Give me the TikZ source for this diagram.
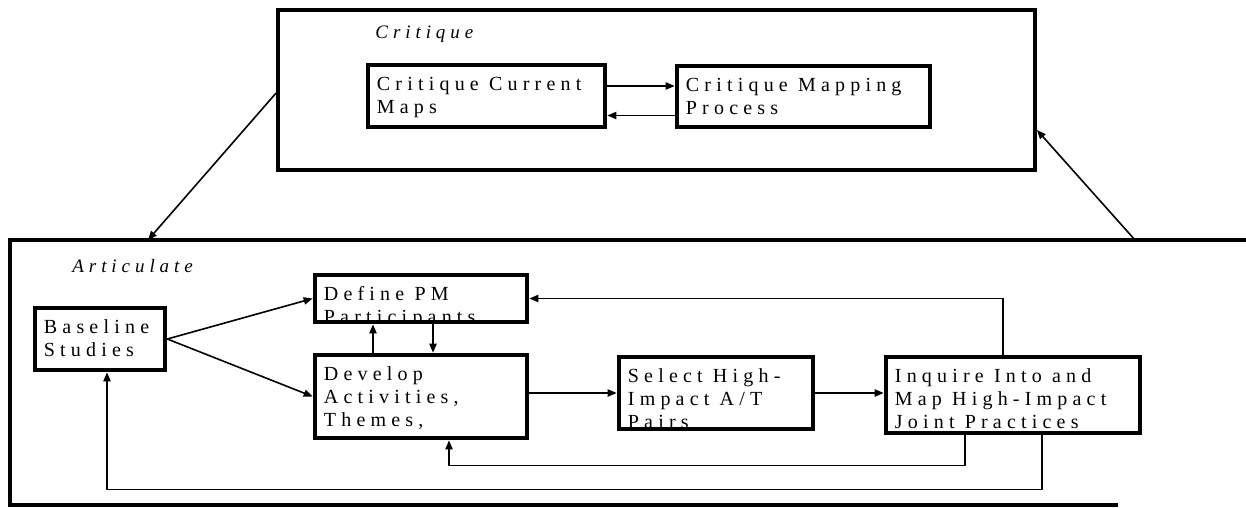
\documentclass[tikz,border=0pt]{standalone}
\usepackage{fontspec}
\setmainfont{Liberation Serif}
\newfontfamily\spacedfont[LetterSpace=26]{Liberation Serif}
\usetikzlibrary{arrows.meta}
\newcommand{\boxtext}[1]{%
  \node[draw=none, anchor=north west, align=left, inner sep=0pt,
        minimum width=0pt, minimum height=0pt,
        font={\spacedfont\fontsize{10pt}{11.5pt}\selectfont}]
    at ([shift={(3.3pt,-4.8pt)}]path picture bounding box.north west) {#1};}

\begin{document}
\begin{tikzpicture}[x=0.5pt, y=-0.5pt,
    stage/.style={draw, line width=2.3pt, inner sep=0pt},
    zone/.style={line width=1.9pt},
    conn/.style={-{Triangle[length=4.5pt,width=3.6pt]}, line width=0.8pt},
    tag/.style={font={\spacedfont\itshape\fontsize{9.5pt}{11pt}\selectfont}, inner sep=0pt}]
  \useasboundingbox (0,0) rectangle (1246,508);
  % Critique loop
  \node[draw, zone, inner sep=0pt, minimum width=378.5pt, minimum height=80pt] (critique) at (656.5,90) {};
  \node[tag, anchor=base west] (critlabel) at (375,39) {Critique};
  \node[stage, minimum width=118.5pt, minimum height=31pt,
        path picture={\boxtext{Critique Current\\Maps}}] (ccm) at (486.5,96) {};
  \node[stage, minimum width=126.5pt, minimum height=30.5pt,
        path picture={\boxtext{Critique Mapping\\Process}}] (cmp) at (803.5,96.5) {};
  \draw[conn] ([yshift=5pt]ccm.east) -- ([yshift=5pt]ccm.east -| cmp.west);
  \draw[conn] ([yshift=-9.5pt]cmp.west) -- ([yshift=-9.5pt]cmp.west -| ccm.east);
  % Articulate loop
  \coordinate (artnw) at (10,240);
  \coordinate (artin) at (148,240);
  \coordinate (artout) at (1135,240);
  \draw[zone] (1246,240) -- (artnw) |- (1118,505);
  \node[tag, anchor=base west] (artlabel) at (72,272) {Articulate};
  \node[stage, minimum width=65pt, minimum height=31pt,
        path picture={\boxtext{Baseline\\Studies}}] (base) at (100,339) {};
  \node[stage, minimum width=106pt, minimum height=23.5pt,
        path picture={\boxtext{Define PM\\Participants}}] (define) at (421,298.5) {};
  \node[stage, minimum width=106pt, minimum height=41.5pt,
        path picture={\boxtext{Develop\\Activities,\\Themes,}}] (develop) at (421,396.5) {};
  \node[stage, minimum width=97pt, minimum height=36pt,
        path picture={\boxtext{Select High-\\Impact A/T\\Pairs}}] (select) at (716,393) {};
  \node[stage, minimum width=127pt, minimum height=38pt,
        path picture={\boxtext{Inquire Into and\\Map High-Impact\\Joint Practices}}] (inquire) at (1013,395) {};
  % Forward links
  \draw[conn] (base.east) -- (define.west);
  \draw[conn] (base.east) -- (develop.west);
  \draw[conn] ([xshift=-24pt]develop.north) -- ([xshift=-24pt]define.south);
  \draw[conn] ([xshift=6pt]define.south) -- ([xshift=6pt]develop.north);
  \draw[conn] (develop.east |- select.west) -- (select.west);
  \draw[conn] (select.east) -- (select.east -| inquire.west);
  % Feedback links
  \draw[conn] ([xshift=-5pt]inquire.north) |- (define.east);
  \draw[conn] ([xshift=-24pt]inquire.south) -- ++(0,-15pt) -| ([xshift=14pt]develop.south);
  \draw[conn] ([xshift=14.5pt]inquire.south) -- ++(0,-27pt) -| ([xshift=3.5pt]base.south);
  % Between the loops
  \draw[conn] ([yshift=-1.5pt]critique.west) -- (artin);
  \draw[conn] (artout) -- ([yshift=-20pt]critique.east);
\end{tikzpicture}
\end{document}
